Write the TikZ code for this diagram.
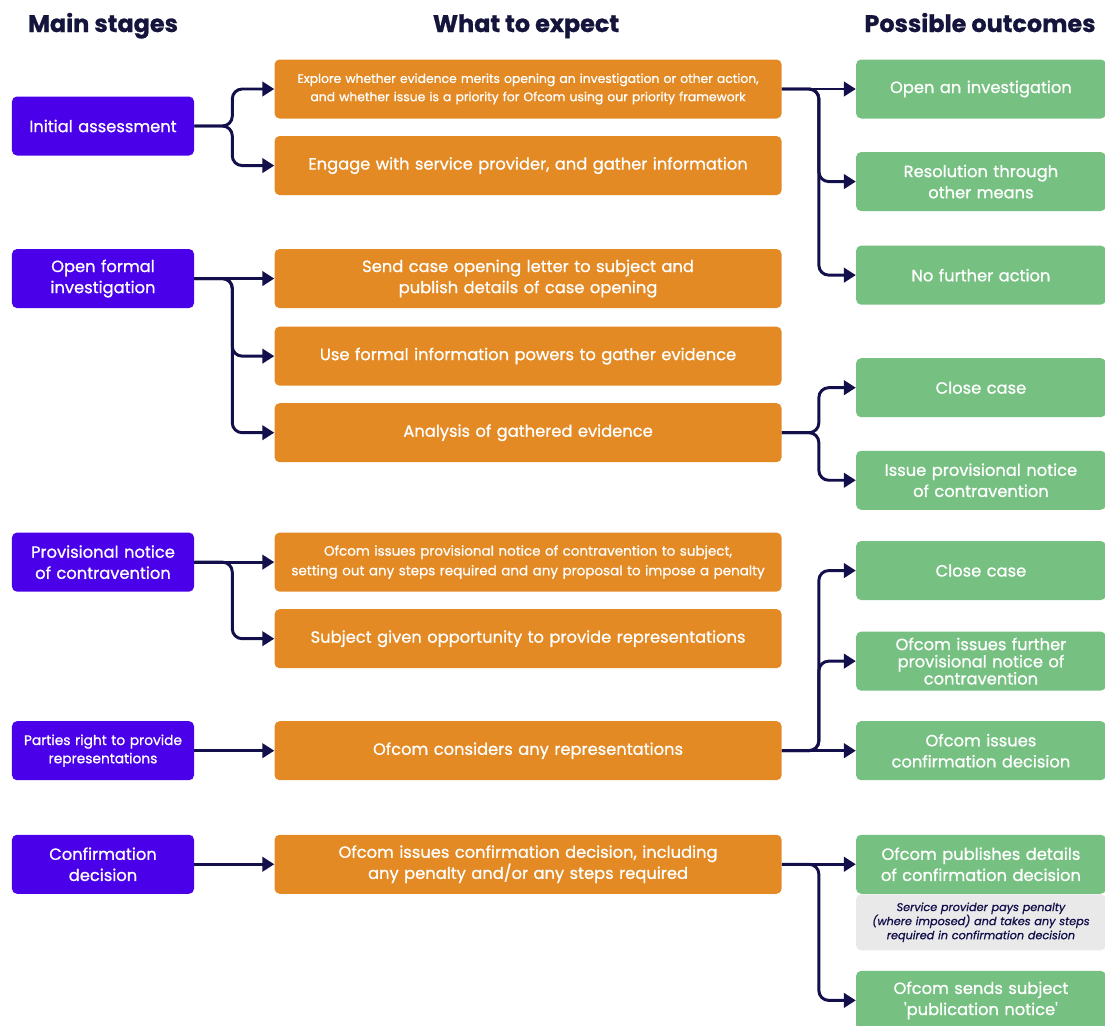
\documentclass[tikz,border=0pt]{standalone}
\usepackage{fontspec}
\setmainfont{Poppins}[FakeBold=0.9]
\usetikzlibrary{arrows.meta, positioning}
\definecolor{stagepurple}{HTML}{4A00E8}
\definecolor{expectorange}{HTML}{E38A24}
\definecolor{outcomegreen}{HTML}{76C082}
\definecolor{notegrey}{HTML}{E9E9EA}
\definecolor{linenavy}{HTML}{120F4A}
\definecolor{headnavy}{HTML}{14143C}
\tikzset{
    font=\fontsize{11.6}{15}\selectfont,
    node distance=0.425cm and 2cm,
    stage_box/.style={
        rectangle,
        rounded corners=3.5pt,
        fill=stagepurple,
        text=white,
        minimum width=4.55cm,
        minimum height=1.475cm,
        text width=4.4cm,
        inner sep=2pt,
        align=center
    },
    expect_box/.style={
        rectangle,
        rounded corners=3.5pt,
        fill=expectorange,
        text=white,
        minimum width=12.675cm,
        minimum height=1.475cm,
        text width=12.5cm,
        inner sep=2pt,
        align=center
    },
    outcome_box/.style={
        rectangle,
        rounded corners=3.5pt,
        fill=outcomegreen,
        text=white,
        minimum width=6.225cm,
        minimum height=1.475cm,
        text width=6.1cm,
        inner sep=2pt,
        align=center
    },
    note_box/.style={
        rectangle,
        rounded corners=3.5pt,
        fill=notegrey,
        text=linenavy,
        minimum width=6.225cm,
        minimum height=1.4cm,
        text width=6.1cm,
        inner sep=2pt,
        align=center,
        font=\itshape\fontsize{8}{10}\selectfont
    },
    column_head/.style={
        text=headnavy,
        anchor=base,
        font=\bfseries\fontsize{17}{20}\selectfont
    },
    flow_arrow/.style={
        -{Triangle[length=0.3cm, width=0.36cm]},
        line width=2.1pt,
        draw=linenavy,
        rounded corners=7pt
    }
}

\begin{document}
\begin{tikzpicture}
\useasboundingbox (0,0) rectangle (27.625,-25.625);

% --- Headings ---
\node[column_head] (HeadStages) at (2.575,-0.8) {Main stages};
\node[column_head] (HeadExpect) at (13.15,-0.8) {What to expect};
\node[column_head] (HeadOutcomes) at (24.5,-0.8) {Possible outcomes};

% --- Column 1 (Main stages) ---
\node[stage_box] (InitialAssess) at (2.575,-3.15) {Initial assessment};
\node[stage_box, below=2.325cm of InitialAssess] (OpenFormal) {Open formal\\investigation};
\node[stage_box, below=5.6cm of OpenFormal] (ProvNotice) {Provisional notice\\of contravention};
\node[stage_box, below=3.225cm of ProvNotice, font=\fontsize{9.8}{13}\selectfont] (PartiesRight) {Parties right to provide\\representations};
\node[stage_box, below=1.35cm of PartiesRight] (ConfirmDecision) {Confirmation\\decision};

% --- Column 2 (What to expect) ---
\node[expect_box, right=of InitialAssess, yshift=0.925cm, font=\fontsize{8.8}{13}\selectfont] (Explore) {Explore whether evidence merits opening an investigation or other action,\\and whether issue is a priority for Ofcom using our priority framework};
\node[expect_box, below=of Explore] (Engage) {Engage with service provider, and gather information};
\node[expect_box, right=of OpenFormal] (SendLetter) {Send case opening letter to subject and\\publish details of case opening};
\node[expect_box, below=0.45cm of SendLetter] (FormalPowers) {Use formal information powers to gather evidence};
\node[expect_box, below=of FormalPowers] (Analysis) {Analysis of gathered evidence};
\node[expect_box, right=of ProvNotice, font=\fontsize{9.6}{14}\selectfont] (IssueProvisional) {Ofcom issues provisional notice of contravention to subject,\\setting out any steps required and any proposal to impose a penalty};
\node[expect_box, below=of IssueProvisional] (Representations) {Subject given opportunity to provide representations};
\node[expect_box, right=of PartiesRight] (Considers) {Ofcom considers any representations};
\node[expect_box, right=of ConfirmDecision] (IssuesConfirm) {Ofcom issues confirmation decision, including\\any penalty and/or any steps required};

% --- Column 3 (Possible outcomes) ---
\node[outcome_box, right=1.85cm of Explore] (OpenInvest) {Open an investigation};
\node[outcome_box, below=0.825cm of OpenInvest] (OtherMeans) {Resolution through\\other means};
\node[outcome_box, below=0.85cm of OtherMeans] (NoAction) {No further action};
\node[outcome_box, right=1.85cm of Analysis, yshift=1.125cm] (CloseCaseA) {Close case};
\node[outcome_box, below=0.825cm of CloseCaseA] (ProvIssue) {Issue provisional notice\\of contravention};
\node[outcome_box, right=1.85cm of Considers] (ConfirmIssue) {Ofcom issues\\confirmation decision};
\node[outcome_box, above=0.75cm of ConfirmIssue, font=\fontsize{11.6}{12.2}\selectfont] (FurtherNotice) {Ofcom issues further\\provisional notice of\\contravention};
\node[outcome_box, above=0.775cm of FurtherNotice] (CloseCaseB) {Close case};
\node[outcome_box, right=1.85cm of IssuesConfirm] (Publishes) {Ofcom publishes details\\of confirmation decision};
\node[note_box, below=0pt of Publishes] (PaysNote) {Service provider pays penalty\\(where imposed) and takes any steps\\required in confirmation decision};
\node[outcome_box, below=0.5cm of PaysNote] (PubNotice) {Ofcom sends subject\\\textquotesingle publication notice\textquotesingle};

% --- Connectors ---
\draw[flow_arrow] (InitialAssess.east) -- ++(0.95,0) |- (Explore.west);
\draw[flow_arrow] (InitialAssess.east) -- ++(0.95,0) |- (Engage.west);
\draw[flow_arrow] (OpenFormal) -- (SendLetter);
\draw[flow_arrow] (OpenFormal.east) -- ++(0.95,0) |- (FormalPowers.west);
\draw[flow_arrow] (OpenFormal.east) -- ++(0.95,0) |- (Analysis.west);
\draw[flow_arrow] (ProvNotice) -- (IssueProvisional);
\draw[flow_arrow] (ProvNotice.east) -- ++(0.95,0) |- (Representations.west);
\draw[flow_arrow] (PartiesRight) -- (Considers);
\draw[flow_arrow] (ConfirmDecision) -- (IssuesConfirm);

\draw[flow_arrow] (Explore) -- (OpenInvest);
\draw[flow_arrow] (Explore.east) -- ++(0.925,0) |- (OtherMeans.west);
\draw[flow_arrow] (Explore.east) -- ++(0.925,0) |- (NoAction.west);
\draw[flow_arrow] (Analysis.east) -- ++(0.925,0) |- (CloseCaseA.west);
\draw[flow_arrow] (Analysis.east) -- ++(0.925,0) |- (ProvIssue.west);
\draw[flow_arrow] (Considers) -- (ConfirmIssue);
\draw[flow_arrow] (Considers.east) -- ++(0.925,0) |- (FurtherNotice.west);
\draw[flow_arrow] (Considers.east) -- ++(0.925,0) |- (CloseCaseB.west);
\draw[flow_arrow] (IssuesConfirm) -- (Publishes);
\draw[flow_arrow] (IssuesConfirm.east) -- ++(0.925,0) |- (PubNotice.west);

\end{tikzpicture}
\end{document}
